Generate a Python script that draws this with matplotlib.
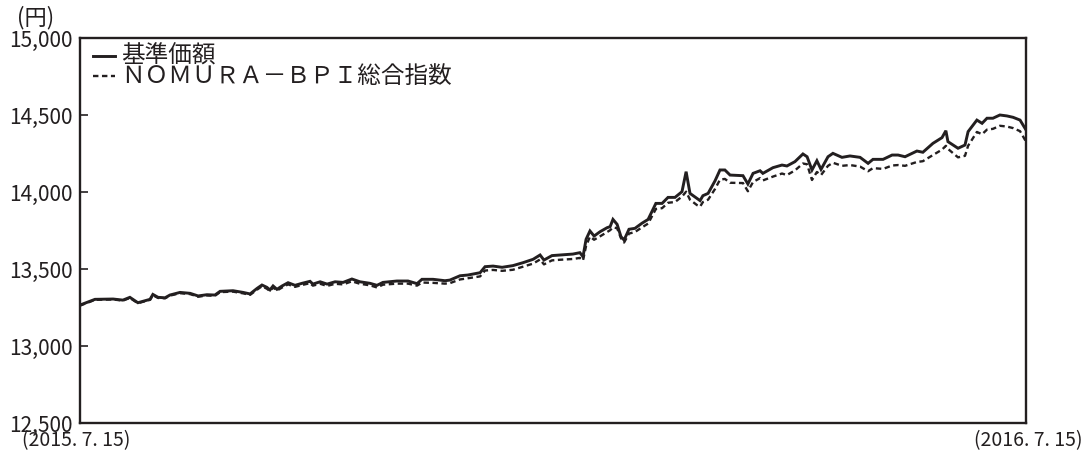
import matplotlib
matplotlib.use("Agg")
import matplotlib.pyplot as plt
from matplotlib.lines import Line2D

plt.rcParams['font.family'] = ['Noto Sans CJK JP', 'DejaVu Sans']

# day offsets from 2015-07-15
days = [0, 5.8, 12.8, 16.6, 19.3, 22.4, 27.1, 28.2, 30.2, 32.9, 34.8, 38.7, 42.6, 45.7,
        49.1, 52.2, 54.2, 59.2, 63.1, 65.8, 68.5, 70.4, 72.3, 73.5, 74.7, 76.2, 78.2,
        80.5, 83.2, 85.9, 89.0, 90.1, 92.9,
        95.6, 98.7, 101.8, 105.2, 108.3, 112.2, 114.9, 117.2, 122.6, 126.9, 130.4, 132.3,
        136.6, 141.2, 143.1, 147.0, 150.1, 154.8, 156.7, 159.8, 163.3, 167.5, 171.4,
        175.3, 178.0, 179.5, 182.6, 185.7,
        190.7, 193.4, 194.6, 195.8, 197.3, 198.9, 201.2, 203.9, 205.1, 206.2, 207.8,
        209.3, 210.5, 212.4, 214.7, 217.4, 219.8, 222.8, 225.2, 227.5, 230.2, 232.9,
        234.5, 236.0, 238.7, 239.9, 241.0, 243.0, 245.7, 247.6, 249.5, 251.5, 256.5,
        258.4, 260.4, 263.1,
        264.2, 268.1, 271.6, 273.5, 276.6, 279.7, 281.3, 283.2, 285.1, 286.7, 289.4,
        291.3, 294.8, 297.9, 301.8, 304.9, 306.8, 310.7,
        314.2, 316.5, 319.2, 323.8, 326.1, 330.0, 333.5, 335.0, 335.8, 339.7, 342.4,
        343.6, 347.0, 349.0, 350.9, 353.2, 355.9, 358.6, 361.0, 363.7, 366.0]

nav = [13266, 13303, 13305, 13298, 13316, 13281, 13303, 13335, 13316, 13313, 13331,
       13348, 13342, 13325, 13333, 13331, 13355, 13359, 13348, 13338, 13374, 13396,
       13381, 13364, 13390, 13368, 13390, 13411, 13394, 13407, 13420, 13402, 13417,
       13402, 13417, 13413, 13435, 13417, 13407, 13394, 13413, 13422, 13422, 13405,
       13433, 13433, 13424, 13428, 13456, 13461, 13476, 13515, 13519, 13511, 13522,
       13541, 13563, 13591, 13558, 13587, 13591,
       13597, 13606, 13580, 13693, 13747, 13714, 13742, 13768, 13775, 13822, 13790,
       13710, 13688, 13758, 13764, 13797, 13822, 13926, 13926, 13965, 13965, 14002,
       14132, 13991, 13959, 13944, 13976, 13991, 14073, 14143, 14143, 14110, 14106,
       14052, 14121, 14138,
       14121, 14158, 14175, 14169, 14197, 14247, 14229, 14143, 14203, 14147, 14229,
       14251, 14225, 14234, 14225, 14186, 14212, 14212,
       14240, 14240, 14229, 14266, 14258, 14316, 14353, 14398, 14327, 14284, 14305,
       14392, 14467, 14446, 14479, 14479, 14500, 14494, 14485, 14467, 14403]

bpi = [13262, 13300, 13302, 13295, 13312, 13278, 13300, 13330, 13312, 13310, 13327,
       13343, 13337, 13320, 13328, 13326, 13350, 13353, 13342, 13332, 13366, 13388,
       13372, 13356, 13380, 13360, 13380, 13400, 13384, 13396, 13408, 13392, 13404,
       13390, 13404, 13400, 13420, 13404, 13394, 13380, 13398, 13405, 13405, 13392,
       13412, 13410, 13405, 13408, 13432, 13440, 13452, 13490, 13494, 13488, 13495,
       13515, 13535, 13562, 13530, 13556, 13560,
       13565, 13572, 13555, 13650, 13710, 13690, 13712, 13740, 13752, 13770, 13765,
       13700, 13672, 13730, 13740, 13770, 13795, 13890, 13895, 13930, 13935, 13970,
       14002, 13950, 13915, 13905, 13935, 13950, 14020, 14080, 14085, 14060, 14058,
       14005, 14065, 14090,
       14075, 14100, 14120, 14110, 14140, 14185, 14180, 14078, 14130, 14110, 14170,
       14190, 14170, 14175, 14165, 14135, 14155, 14150,
       14172, 14175, 14170, 14195, 14200, 14240, 14275, 14300, 14280, 14225, 14235,
       14300, 14390, 14375, 14405, 14410, 14430, 14425, 14415, 14395, 14327]

yticks = [12500, 13000, 13500, 14000, 14500, 15000]
ytick_labels = ["12,500", "13,000", "13,500", "14,000", "14,500", "15,000"]
start_label = "(2015. 7. 15)"
end_label = "(2016. 7. 15)"
series_names = ["基準価額", "ＮＯＭＵＲＡ－ＢＰＩ総合指数"]

ink = '#231f20'
W, H = 1088, 455
fig = plt.figure(figsize=(10.88, 4.55), dpi=100)
ax = fig.add_axes([80/W, 1 - 423/H, (1026-80)/W, (423-38)/H])

solid_style = dict(color=ink, lw=2.1, solid_joinstyle='miter')
dash_style = dict(color=ink, lw=1.7, linestyle=(0, (2.3, 1.5)))
ax.plot(days, nav, **solid_style)
ax.plot(days, bpi, **dash_style)

ax.set_xlim(0, 366)
ax.set_ylim(12500, 15000)
ax.set_yticks(yticks)
ax.set_yticklabels(ytick_labels, fontsize=15, color=ink)
ax.set_xticks([])
ax.tick_params(axis='y', direction='in', length=6, width=1.2, color=ink, pad=5)
for s in ax.spines.values():
    s.set_linewidth(1.7)
    s.set_color(ink)

# legend (manual, compact rows as in the reference)
rows_y = [56, 76]
styles = [solid_style, dash_style]
for name, yy, st in zip(series_names, rows_y, styles):
    fig.add_artist(Line2D([93/W, 115/W], [1 - yy/H, 1 - yy/H], transform=fig.transFigure, **st))
    fig.text(121/W, 1 - yy/H, name, fontsize=17, color=ink, va='center', ha='left')

fig.text(17/W, 1 - 18/H, "(円)", fontsize=16, color=ink, va='center', ha='left')
fig.text(22/W, 1 - 441/H, start_label, fontsize=14, color=ink, va='center', ha='left')
fig.text(1082/W, 1 - 441/H, end_label, fontsize=14, color=ink, va='center', ha='right')

fig.savefig("out.png", dpi=100)
